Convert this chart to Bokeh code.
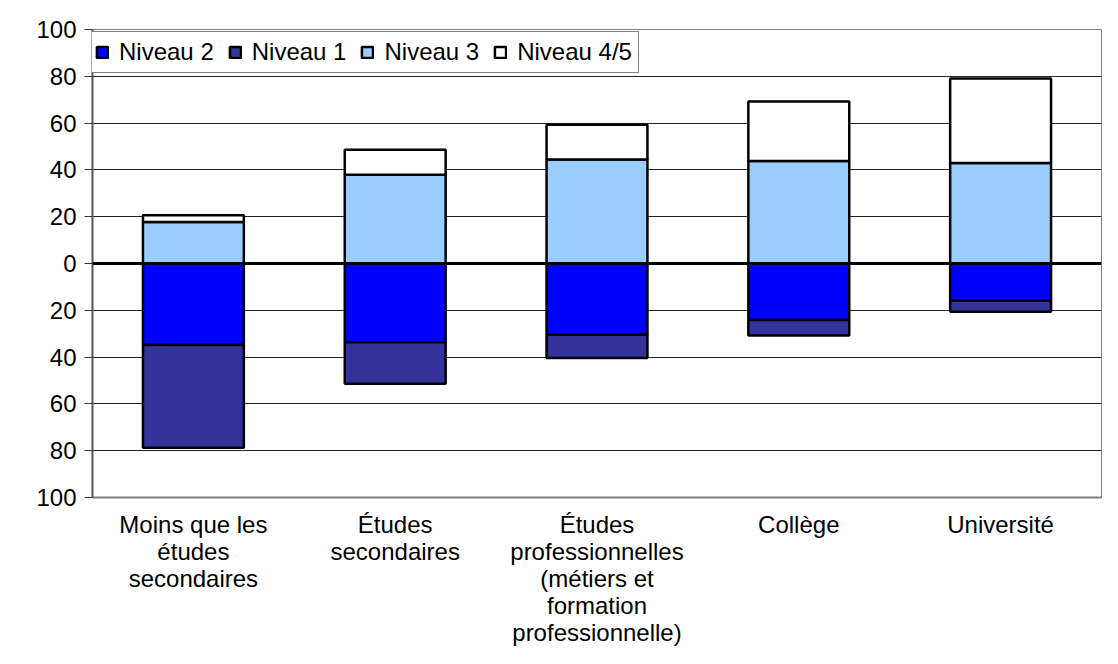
from bokeh.plotting import figure
from bokeh.models import (FactorRange, Range1d, FixedTicker, CustomJSTickFormatter,
                          Span, Legend, LegendItem, ColumnDataSource)
from bokeh.embed import file_html
from bokeh.resources import INLINE

categories = [
    "Moins que les\nétudes\nsecondaires",
    "Études\nsecondaires",
    "Études\nprofessionnelles\n(métiers et\nformation\nprofessionnelle)",
    "Collège",
    "Université",
]
niveau1 = [43.9, 17.7, 9.9, 6.7, 4.7]
niveau2 = [34.8, 33.7, 30.5, 24.1, 15.9]
niveau3 = [17.7, 37.9, 44.4, 43.8, 43.0]
niveau45 = [2.9, 10.7, 14.9, 25.4, 36.1]
y_ticks = [-100, -80, -60, -40, -20, 0, 20, 40, 60, 80, 100]

colors = {"Niveau 2": "#0000FF", "Niveau 1": "#333399",
          "Niveau 3": "#99CCFF", "Niveau 4/5": "#FFFFFF"}

FONT = "Liberation Sans"
FS = "24px"

source = ColumnDataSource(data=dict(
    cat=categories,
    n2=[-v for v in niveau2],
    n1=[-v for v in niveau1],
    n3=niveau3,
    n45=niveau45,
))

p = figure(x_range=FactorRange(factors=categories), y_range=Range1d(-100, 100),
           width=1102, height=648, output_backend="svg", toolbar_location=None,
           min_border_left=92, min_border_right=1, min_border_top=29, min_border_bottom=149)

neg = p.vbar_stack(["n2", "n1"], x="cat", width=0.5, source=source,
                   fill_color=[colors["Niveau 2"], colors["Niveau 1"]],
                   line_color="black", line_width=2.5)
pos = p.vbar_stack(["n3", "n45"], x="cat", width=0.5, source=source,
                   fill_color=[colors["Niveau 3"], colors["Niveau 4/5"]],
                   line_color="black", line_width=2.5)

p.add_layout(Span(location=0, dimension="width", line_color="black", line_width=3))

# axes
p.yaxis.ticker = FixedTicker(ticks=y_ticks)
p.yaxis.formatter = CustomJSTickFormatter(code="return Math.abs(tick).toString();")
p.yaxis.major_label_text_font = FONT
p.yaxis.major_label_text_font_size = FS
p.yaxis.major_label_text_color = "black"
p.yaxis.major_tick_out = 8
p.yaxis.major_tick_in = 0
p.yaxis.minor_tick_line_color = None
p.yaxis.major_tick_line_color = "#333333"
p.yaxis.axis_line_color = "#555555"
p.yaxis.axis_line_width = 2
p.yaxis.major_label_standoff = 8

p.xaxis.major_label_text_font = FONT
p.xaxis.major_label_text_font_size = FS
p.xaxis.major_label_text_color = "black"
p.xaxis.major_label_text_line_height = 1.0
p.xaxis.major_tick_line_color = None
p.xaxis.minor_tick_line_color = None
p.xaxis.axis_line_color = "#808080"
p.xaxis.axis_line_width = 2
p.xaxis.major_label_standoff = 7

p.xgrid.grid_line_color = None
p.ygrid.ticker = FixedTicker(ticks=y_ticks)
p.ygrid.grid_line_color = "#222222"
p.ygrid.grid_line_width = 1

p.outline_line_color = "#808080"
p.outline_line_width = 1

legend = Legend(items=[
    LegendItem(label="Niveau 2", renderers=[neg[0]]),
    LegendItem(label="Niveau 1", renderers=[neg[1]]),
    LegendItem(label="Niveau 3", renderers=[pos[0]]),
    LegendItem(label="Niveau 4/5", renderers=[pos[1]]),
], orientation="horizontal", location=(-4, 424))
legend.label_text_font = FONT
legend.label_text_font_size = FS
legend.label_text_color = "black"
legend.glyph_width = 14
legend.glyph_height = 14
legend.label_standoff = 10
legend.spacing = 14
legend.padding = 6
legend.margin = 0
legend.border_line_color = "black"
legend.border_line_width = 1
legend.background_fill_color = "white"
legend.background_fill_alpha = 1
p.add_layout(legend, "center")

open("out.html", "w").write(file_html(p, INLINE))
